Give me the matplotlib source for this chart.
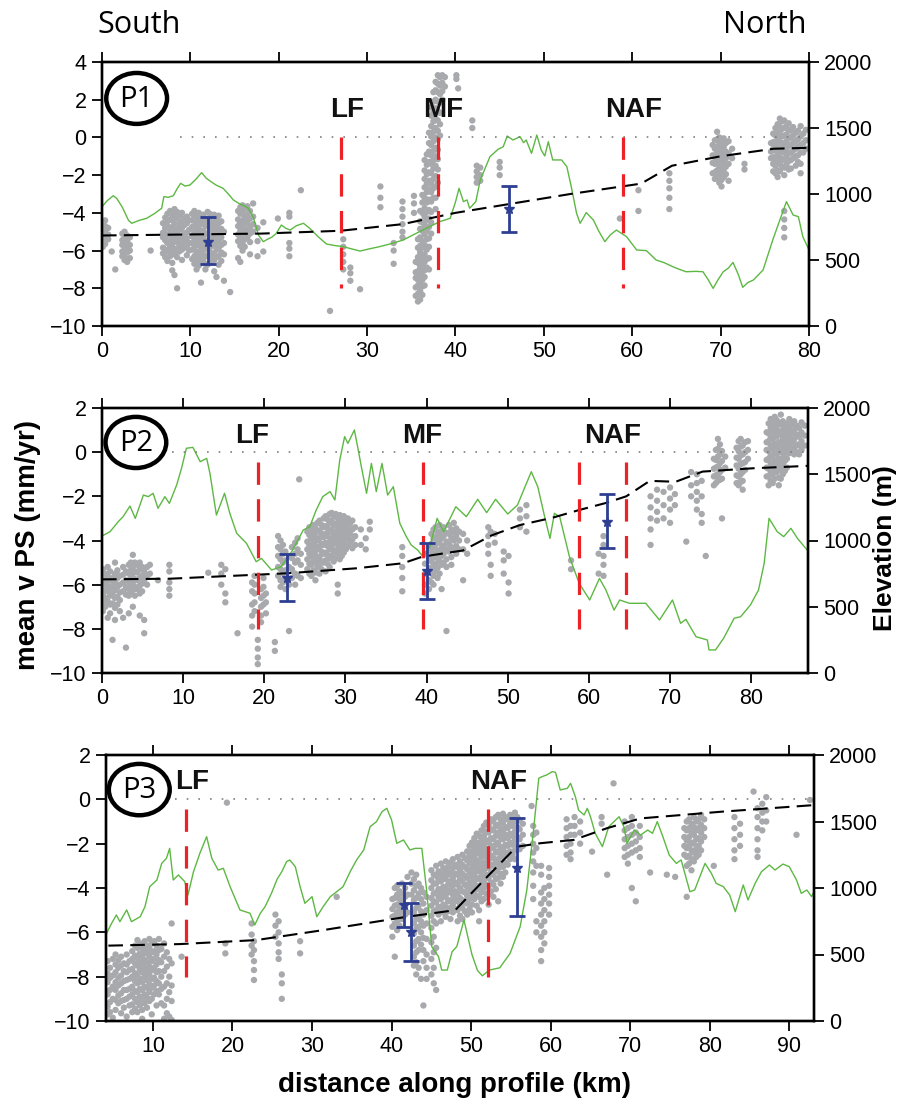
import matplotlib
matplotlib.use('Agg')
import matplotlib.pyplot as plt
from matplotlib.patches import Ellipse

plt.rcParams['font.family'] = ['Liberation Sans', 'DejaVu Sans']

# ======================= DATA =======================
# ---------- Profile P1 ----------
p1_elev_km = [0, 0.6, 1.28, 1.66, 2.3, 3.0, 3.36, 4.2, 5.05, 5.9, 6.75, 7.0, 7.5, 8.07, 8.5, 8.9, 9.4, 9.95,
              10.6, 11.27, 11.8, 12.3, 12.9, 13.7, 14.3, 14.86, 15.6, 16.1, 16.55, 17.1, 17.4, 17.7, 18.25,
              18.8, 19.2, 19.7, 20.3, 20.8, 21.3, 22.0, 22.8, 23.5, 24.4, 25.4, 26.3, 27.3, 28.2, 29.2, 30.3,
              31.4, 32.8, 34.1, 35.2, 36.3, 37.3, 38.2, 39.4, 40.0, 40.4, 40.9, 41.3, 41.6, 42.3, 42.8, 43.9,
              44.8, 45.4, 45.85, 46.5, 47.3, 47.7, 48.0, 48.6, 49.2, 49.7, 50.1, 50.5, 51.0, 52.0, 52.6, 53.1,
              53.7, 54.1, 54.8, 55.6, 56.2, 56.9, 57.5, 58.2, 59.35, 60.5, 61.6, 62.7, 63.6, 64.6, 65.3, 66.1,
              67.2, 68.0, 68.6, 69.15, 69.7, 70.3, 70.9, 71.4, 72.0, 72.5, 73.1, 73.7, 74.8, 75.9, 76.7, 77.45,
              78.2, 78.8, 79.3, 80.0]
p1_elev_m = [904, 950, 987, 967, 900, 800, 778, 800, 816, 850, 892, 980, 975, 987, 1040, 1081, 1060, 1068,
             1110, 1162, 1119, 1095, 1068, 1043, 1000, 955, 924, 910, 892, 828, 760, 689, 639,
             660, 672, 700, 765, 740, 727, 760, 778, 740, 680, 621, 610, 601, 585, 568, 585,
             601, 625, 652, 690, 727, 760, 790, 816, 940, 1043, 942, 955, 892, 942, 1106, 1283,
             1338, 1358, 1439, 1409, 1434, 1389, 1409, 1308, 1447, 1333, 1288, 1396, 1258, 1258, 1207, 1055,
             854, 778, 859, 803, 720, 639, 689, 727, 677, 576, 571, 500, 480, 449, 430, 411,
             414, 411, 350, 285, 350, 411, 440, 482, 390, 293, 330, 348, 424, 652, 803, 942,
             841, 828, 677, 576]
p1_model_km = [0, 18, 27, 29, 34, 40, 53, 61, 64.5, 70, 76, 80]
p1_model_v = [-5.2, -5.1, -4.95, -4.85, -4.6, -4.0, -3.0, -2.45, -1.5, -1.0, -0.6, -0.55]
p1_fault_km = [27.0, 38.0, 59.0]
p1_fault_names = ['LF', 'MF', 'NAF']
p1_label_km = [27.7, 38.6, 60.2]
p1_bar_km = [11.95, 46.1]
p1_bar_v = [-5.53, -3.81]
p1_bar_lo = [-6.73, -5.0]
p1_bar_hi = [-4.2, -2.57]
p1_ps_columns = [
    (0.1, [-4.5, -4.95, -5.2, -5.55, -5.8]), (0.35, [-4.4, -4.7, -5.05, -5.3, -5.65]), (0.7, [-4.8, -5.15, -5.4]),
    (1.1, [-6.05]), (1.5, [-7.0]),
    (2.3, [-5.1, -5.45, -5.7, -6.05, -6.3]), (2.55, [-5.0, -5.3, -5.6, -5.95, -6.2, -6.5]),
    (2.85, [-5.2, -5.5, -5.85, -6.1, -6.45, -6.6]), (3.15, [-5.3, -5.7, -6.0, -6.4]), (5.5, [-6.0]),
    (6.9, [-4.55, -5.05, -5.3, -5.85, -6.15]), (7.15, [-4.25, -4.8, -5.1, -5.45, -5.95, -6.35]),
    (7.4, [-4.05, -4.45, -4.7, -5.2, -5.6, -6.05, -6.55]), (7.7, [-3.9, -4.35, -4.9, -5.15, -5.5, -5.8, -6.3]),
    (7.95, [-4.1, -4.4, -4.75, -5.3, -5.65, -6.1, -6.65, -7.05]),
    (8.2, [-3.8, -4.2, -4.55, -5.0, -5.35, -5.9, -6.2, -7.3]),
    (8.5, [-3.95, -4.3, -4.85, -5.15, -5.55, -6.0, -6.35, -8.0]), (8.75, [-4.15, -4.6, -4.9, -5.4, -5.75, -6.05]),
    (9.05, [-4.0, -4.45, -4.8, -5.25, -5.6, -5.95, -6.5]), (9.3, [-4.3, -4.65, -5.1, -5.5, -5.85]),
    (9.6, [-4.2, -4.55, -5.05, -5.35, -5.8, -6.25]), (9.85, [-4.4, -4.9, -5.6, -6.0]),
    (10.2, [-4.05, -4.4, -4.75, -5.25, -5.6, -5.95, -6.45]),
    (10.45, [-3.9, -4.25, -4.7, -5.05, -5.45, -5.85, -6.3, -6.7]),
    (10.7, [-4.15, -4.55, -4.9, -5.35, -5.7, -6.1, -6.55, -7.0]),
    (10.95, [-4.0, -4.35, -4.85, -5.2, -5.55, -6.05, -6.4, -6.8]),
    (11.2, [-4.25, -4.6, -5.0, -5.4, -5.8, -6.2, -6.65, -7.7]),
    (11.45, [-4.1, -4.5, -4.95, -5.3, -5.65, -6.0, -6.45]),
    (11.7, [-4.3, -4.7, -5.1, -5.5, -5.9, -6.3, -6.7, -7.0]),
    (11.95, [-3.95, -4.35, -4.65, -5.1, -5.5, -5.85, -6.25, -6.75]),
    (12.2, [-4.05, -4.45, -4.85, -5.25, -5.65, -6.05, -6.35]),
    (12.45, [-4.2, -4.6, -5.0, -5.35, -5.75, -6.2, -6.6]),
    (12.7, [-4.1, -4.5, -4.9, -5.3, -5.7, -6.15, -6.5, -7.1]),
    (12.95, [-4.35, -4.75, -5.15, -5.55, -5.95, -6.35, -7.4]),
    (13.2, [-4.15, -4.55, -5.0, -5.45, -5.85, -6.3, -6.75]),
    (13.5, [-4.45, -4.85, -5.3, -5.7, -6.1, -6.55]), (13.8, [-5.0, -5.6, -6.2, -7.6]), (14.5, [-8.2]),
    (15.4, [-3.9, -4.35, -4.7, -5.15, -5.5, -6.4]), (15.65, [-3.7, -4.05, -4.5, -4.95, -5.3, -5.75, -6.6]),
    (15.9, [-3.6, -4.0, -4.4, -4.8, -5.2, -5.6, -6.0]), (16.15, [-3.8, -4.25, -4.6, -5.05, -5.4, -5.8]),
    (16.45, [-3.65, -4.1, -4.5, -4.9, -5.3]), (16.75, [-3.9, -4.3, -4.75, -5.1, -5.55, -6.2]),
    (17.1, [-3.5, -4.2, -4.6, -5.0]), (17.6, [-4.8, -5.5, -6.3]), (18.25, [-4.5, -6.05]), (19.9, [-4.3]),
    (21.2, [-4.0, -4.2, -5.6, -5.9, -6.3]), (22.5, [-2.8]), (25.8, [-9.2]),
    (27.3, [-5.4, -5.8, -6.2, -6.6, -7.0]), (28.1, [-6.9, -7.2, -7.6]), (29.2, [-8.05]),
    (31.5, [-2.6, -3.2, -3.7]), (33.0, [-5.6, -6.0, -6.7]), (34.0, [-3.4, -3.8, -4.2, -4.6, -5.0, -5.3]),
    (35.3, [-3.1, -3.5, -4.0]),
    (35.5, [-6.6, -7.15, -7.45, -7.95, -8.4]),
    (35.75, [-5.4, -5.85, -6.35, -6.65, -7.1, -7.55, -7.85, -8.3, -8.7]),
    (36.0, [-3.9, -4.45, -4.85, -5.3, -5.75, -6.1, -6.55, -6.9, -7.35, -7.7, -8.15, -8.6]),
    (36.25, [-3.05, -3.45, -4.0, -4.5, -4.95, -5.5, -5.85, -6.3, -6.75, -7.1, -7.55, -7.9, -8.35]),
    (36.5, [-1.2, -1.75, -2.2, -2.65, -3.2, -3.75, -4.2, -4.65, -5.15, -5.7, -6.2, -6.6, -7.05, -7.4, -7.85]),
    (36.75, [-0.9, -1.45, -1.95, -2.45, -2.9, -3.45, -3.95, -4.4, -4.95, -5.4, -5.95, -6.45, -6.9]),
    (37.0, [0.25, -0.3, -0.75, -1.3, -1.85, -2.3, -2.75, -3.3, -3.85, -4.3, -4.75, -5.35, -5.8, -6.4, -7.0]),
    (37.25, [1.6, 1.15, 0.6, 0.05, -0.4, -0.95, -1.4, -1.9, -2.45, -2.9, -3.4, -3.95, -4.5, -5.1]),
    (37.5, [2.4, 1.9, 1.35, 0.85, 0.3, -0.2, -0.7, -1.2, -1.65, -2.2, -2.7, -3.2]),
    (37.75, [2.95, 2.5, 2.0, 1.55, 1.0, 0.5, 0.0, -0.55, -1.0, -1.5, -2.05, -2.6, -3.2, -3.8]),
    (38.0, [3.3, 2.85, 2.4, 1.9, 1.4, 0.9, 0.35, -0.1, -0.65, -1.15, -1.7, -2.4]),
    (38.25, [3.2, 2.75, 2.3, 1.85, 1.3, 0.7, 0.1]), (38.5, [3.3, 2.9, 2.45, 2.0]), (38.8, [3.2, 2.7]),
    (40.1, [3.3, 3.1]), (40.3, [2.6]), (41.9, [0.9, 0.5]), (42.4, [-1.5, -1.8, -2.1, -2.4]),
    (42.8, [-1.6, -2.0, -2.3]), (45.0, [-1.3, -1.6, -2.0]), (58.6, [-4.3]), (60.7, [-2.8, -3.9]),
    (64.2, [-1.9, -2.3, -2.7, -3.2, -3.8]),
    (69.1, [-0.4, -0.95, -1.35, -1.9]), (69.35, [-0.15, -0.6, -1.05, -1.4, -1.85, -2.2]),
    (69.6, [0.3, -0.1, -0.5, -0.85, -1.3, -1.75, -2.1]), (69.85, [0.0, -0.35, -0.8, -1.25, -1.6, -2.05, -2.4]),
    (70.1, [-0.2, -0.65, -1.0, -1.45, -1.8, -2.25, -2.6]), (70.35, [-0.05, -0.5, -0.9, -1.3, -1.7, -2.1]),
    (70.6, [-0.3, -0.75, -1.1, -1.55, -1.95]), (70.9, [-0.2, -0.85, -1.4, -2.3]), (71.3, [-0.6, -1.1]),
    (72.7, [-1.4, -1.7]),
    (75.7, [-0.3, -0.75, -1.1]), (75.95, [0.2, -0.25, -0.6, -1.05, -1.4, -1.8]),
    (76.2, [0.5, 0.1, -0.35, -0.7, -1.15, -1.5, -1.9]), (76.45, [0.7, 0.25, -0.1, -0.55, -0.9, -1.3, -1.75, -2.1]),
    (76.7, [1.0, 0.55, 0.2, -0.25, -0.6, -1.05, -1.4, -1.8]), (76.95, [0.85, 0.45, 0.05, -0.3, -0.75, -1.15, -1.55]),
    (77.2, [0.9, 0.5, 0.1, -0.4, -0.8, -1.2, -1.6, -2.0, -3.9, -4.35, -4.8, -5.3]),
    (77.45, [0.6, 0.15, -0.2, -0.6, -1.0, -1.45]), (77.7, [0.75, 0.35, -0.05, -0.45, -0.85, -1.25, -1.7]),
    (77.95, [0.4, 0.0, -0.4, -0.8, -1.2, -1.65]), (78.2, [0.55, 0.1, -0.3, -0.7, -1.1]),
    (78.5, [0.25, -0.2, -0.6, -1.0, -1.5]), (78.75, [0.35, -0.1, -0.5, -0.95, -1.3]),
    (79.05, [0.6, 0.05, -0.4, -0.8, -1.4, -1.9]), (79.35, [0.2, -0.3, -0.8]), (79.65, [0.4, -0.15, -0.6]),
]

# ---------- Profile P2 ----------
p2_elev_km = [0, 1.0, 2.0, 2.6, 3.45, 4.1, 5.1, 5.7, 6.3, 6.9, 7.75, 8.3, 9.2, 9.8, 10.4, 11.2, 12.1, 12.9, 13.3,
              14.1, 15.1, 15.75, 16.6, 17.8, 19.0, 19.65, 20.9, 22.1, 23.5, 24.8, 25.6, 26.4, 27.2, 28.1, 28.7,
              29.3, 29.9, 30.3, 31.1, 31.5, 31.96, 32.6, 33.2, 33.8, 34.5, 35.2, 35.9, 36.7, 37.5, 38.1, 38.9,
              39.55, 40.4, 41.3, 42.1, 43.6, 44.9, 46.3, 47.4, 48.5, 50.0, 51.2, 52.9, 53.7, 54.5, 55.2, 55.75,
              56.4, 57.6, 58.8, 60.1, 61.3, 62.1, 63.1, 63.8, 65.0, 67.0, 68.7, 70.3, 71.3, 71.95, 73.2, 74.6,
              74.8, 75.6, 76.6, 77.9, 78.7, 79.9, 80.9, 81.6, 82.2, 83.2, 84.0, 84.9, 85.7, 86.9]
p2_elev_m = [1034, 1067, 1142, 1180, 1260, 1167, 1343, 1331, 1356, 1243, 1331, 1280, 1419, 1545, 1696, 1703, 1595, 1620, 1507,
             1192, 1356, 1205, 1054, 979, 840, 865, 777, 803, 928, 1079, 1104, 1230, 1331, 1369, 1306,
             1608, 1784, 1733, 1834, 1708, 1557, 1356, 1582, 1369, 1582, 1343, 1406, 1130, 1029, 966, 928,
             878, 953, 1167, 1067, 1255, 1180, 1311, 1210, 1311, 1200, 1268, 1519, 1406, 1192, 1016, 1205,
             1180, 878, 677, 551, 714, 626, 475, 551, 526, 526, 400, 551, 375, 405, 274, 249,
             174, 174, 262, 413, 425, 513, 626, 828, 1167, 1067, 1029, 1092, 1016, 928]
p2_model_km = [0, 8.4, 19, 23, 31.3, 37.1, 39.5, 44.5, 48, 51.5, 55.5, 58.8, 62.1, 64.6, 67.5, 70.7, 74, 80.2, 87]
p2_model_v = [-5.76, -5.73, -5.55, -5.48, -5.26, -5.03, -4.73, -4.45, -3.77, -3.3, -2.97, -2.62, -2.3, -2.0,
              -1.3, -1.34, -0.88, -0.73, -0.62]
p2_fault_km = [19.25, 39.5, 58.8, 64.6]
p2_fault_names = ['LF', 'MF', 'NAF']
p2_label_km = [18.5, 39.4, 62.9]
p2_bar_km = [22.8, 40.0, 62.2]
p2_bar_v = [-5.71, -5.38, -3.15]
p2_bar_lo = [-6.72, -6.63, -4.35]
p2_bar_hi = [-4.63, -4.13, -1.91]
p2_ps_columns = [
    (0.1, [-5.3, -5.75, -6.0, -6.45, -6.8, -7.2]), (0.4, [-5.5, -5.85, -6.25, -6.6, -7.0]),
    (0.7, [-5.2, -5.6, -6.05, -6.3, -6.75, -7.5]), (1.0, [-5.4, -5.8, -6.15, -6.5, -6.9, -7.3]),
    (1.3, [-5.7, -6.05, -6.4, -6.85, -8.5]), (1.6, [-5.0, -5.5, -5.9, -6.25, -6.6, -7.05, -7.6]),
    (1.9, [-5.35, -5.7, -6.1, -6.55, -6.9]), (2.2, [-5.6, -6.0, -6.35, -6.7, -7.2]),
    (2.6, [-5.2, -5.55, -5.9, -6.3, -7.5]), (2.95, [-5.4, -5.8, -6.1, -6.45, -8.85]),
    (3.3, [-5.1, -5.5, -5.85, -6.2, -6.5, -7.3]), (3.55, [-5.0, -5.35, -5.7, -6.05, -6.4]),
    (3.8, [-4.65, -5.2, -5.5, -5.9, -6.25, -7.0]), (4.05, [-5.0, -5.4, -5.75, -6.1, -6.5]),
    (4.35, [-5.1, -5.45, -5.8, -6.2]), (4.65, [-5.0, -5.3, -5.7, -6.05, -6.4, -7.4]),
    (4.95, [-5.2, -5.6, -5.95, -6.3]), (5.2, [-5.4, -5.8, -7.6, -8.2]), (5.55, [-5.2, -5.6, -6.0]),
    (5.9, [-5.1, -5.5]), (6.9, [-5.8]), (8.3, [-5.1, -5.4, -5.9, -6.2, -6.5]), (13.1, [-5.46]),
    (14.7, [-5.1, -5.5, -6.0]), (15.2, [-5.3, -6.4, -6.8]), (16.7, [-8.2]),
    (18.5, [-5.9, -6.3, -6.9, -7.4, -7.9]), (18.8, [-5.6, -6.0, -6.4, -6.8, -7.2]),
    (19.2, [-8.5, -8.9, -9.3, -9.6]), (19.6, [-6.2, -6.6, -7.0, -7.4, -7.7]),
    (19.9, [-5.7, -6.1, -6.5, -6.9]), (20.2, [-6.4, -6.8, -7.3]), (21.3, [-8.6, -9.0]),
    (21.7, [-3.8, -4.3, -4.7, -5.2, -5.6]), (22.0, [-4.0, -4.4, -4.85, -5.3, -5.8, -6.1]),
    (22.3, [-4.2, -4.6, -5.0, -5.5, -5.9]), (22.6, [-4.5, -4.9, -5.35, -5.8, -6.2]),
    (23.05, [-4.7, -5.2, -6.0, -8.1]), (23.4, [-4.3, -4.8, -5.3, -5.7]),
    (23.8, [-4.1, -4.6, -5.0, -5.5, -6.0]), (24.1, [-3.9, -4.4, -4.9, -5.6]), (24.3, [-1.23]),
    (24.5, [-4.6, -5.1, -5.7]),
    (25.3, [-3.6, -4.05, -4.4, -4.85, -5.3]), (25.55, [-3.4, -3.75, -4.2, -4.6, -5.05, -5.5]),
    (25.8, [-3.55, -3.9, -4.35, -4.7, -5.1, -5.6]), (26.05, [-3.3, -3.7, -4.1, -4.55, -4.9, -5.35]),
    (26.3, [-3.45, -3.85, -4.25, -4.65, -5.0, -5.45, -5.8]), (26.55, [-3.2, -3.6, -4.0, -4.4, -4.85, -5.2]),
    (26.8, [-3.1, -3.55, -3.9, -4.3, -4.75, -5.1, -5.5]), (27.05, [-3.3, -3.7, -4.15, -4.5, -4.95, -5.3]),
    (27.3, [-3.0, -3.4, -3.85, -4.2, -4.6, -5.0]), (27.55, [-2.9, -3.35, -3.7, -4.1, -4.55, -4.9, -5.4]),
    (27.8, [-3.05, -3.45, -3.8, -4.25, -4.65, -5.05]), (28.05, [-2.8, -3.2, -3.6, -4.05, -4.4, -4.8, -5.2]),
    (28.3, [-2.75, -3.1, -3.5, -3.95, -4.3, -4.7]), (28.55, [-2.9, -3.3, -3.75, -4.1, -4.5, -4.95]),
    (28.8, [-2.8, -3.25, -3.6, -4.0, -4.45, -4.8]), (29.05, [-3.0, -3.4, -3.8, -4.2, -4.6, -6.0, -6.4]),
    (29.3, [-2.85, -3.25, -3.65, -4.05, -4.45, -4.85]), (29.55, [-3.1, -3.5, -3.9, -4.3, -4.7]),
    (29.8, [-2.9, -3.3, -3.75, -4.15, -4.55]), (30.05, [-3.15, -3.55, -3.95, -4.4]),
    (30.3, [-3.0, -3.45, -3.85, -4.25]), (30.55, [-3.25, -3.7, -4.1]), (30.85, [-3.1, -3.5, -3.95, -4.35]),
    (31.2, [-3.4, -3.8, -4.2]),
    (31.9, [-3.5, -4.2]), (32.5, [-3.9, -4.4]), (33.0, [-3.15, -3.5]),
    (37.0, [-4.3, -4.7, -5.2, -5.7, -6.3]),
    (39.8, [-4.6, -5.05, -5.5, -6.0, -6.4]), (40.3, [-4.3, -4.8, -5.25, -5.8, -6.2]),
    (40.6, [-3.7, -4.15, -4.5, -4.95, -5.4, -5.9]), (40.85, [-3.5, -3.9, -4.3, -4.75, -5.15, -5.6, -6.0]),
    (41.1, [-3.4, -3.85, -4.2, -4.6, -5.05, -5.4]), (41.35, [-3.6, -4.0, -4.45, -4.8, -5.25, -5.7]),
    (41.6, [-3.3, -3.75, -4.1, -4.5, -4.95, -5.5]), (41.85, [-3.55, -3.9, -4.35, -4.7, -5.1, -6.2]),
    (42.1, [-3.4, -3.8, -4.25, -4.6, -5.0]), (42.45, [-3.65, -4.05, -4.4, -4.85, -5.2, -8.1]),
    (42.75, [-3.3, -3.7, -4.15, -4.5]), (43.05, [-3.5, -3.9, -4.3, -4.75, -5.1]),
    (43.35, [-3.2, -3.65, -4.0, -4.4]), (43.65, [-3.45, -3.8, -4.25, -4.6]), (44.0, [-3.6, -4.0, -4.4]),
    (44.5, [-3.7, -4.4, -5.8]), (45.0, [-4.0, -4.6]), (47.6, [-3.4, -3.8, -4.2, -4.6]),
    (47.9, [-3.6, -5.1, -5.6]), (48.4, [-3.7, -4.1]), (49.5, [-4.5, -4.9, -5.5]), (50.1, [-4.7, -5.9, -6.4]),
    (51.5, [-2.6, -3.0, -3.4]), (52.3, [-2.4, -2.9, -3.6]), (57.8, [-4.9, -5.3]), (61.2, [-4.6, -5.5]),
    (61.8, [-3.8, -4.2, -4.7, -5.1, -5.6]), (67.6, [-2.0, -2.5, -3.0, -3.5, -4.2]),
    (68.4, [-1.7, -2.2, -2.7, -3.1]), (69.2, [-1.8, -2.4, -3.0]), (70.0, [-1.6, -2.1, -2.6, -3.2]),
    (70.6, [-1.9, -2.4]), (72.0, [-4.05]), (72.6, [-0.9, -1.5, -2.0]), (73.3, [-1.0, -1.4, -1.8, -2.2, -2.6]),
    (73.9, [-1.3, -2.0, -2.8, -3.2]), (74.4, [-4.7]),
    (75.4, [-0.3, -0.75, -1.1, -1.5]), (75.65, [0.1, -0.35, -0.7, -1.05, -1.4]),
    (75.9, [0.6, 0.15, -0.2, -0.65, -1.0, -1.3]), (76.15, [0.35, -0.1, -0.5, -0.9, -1.25]),
    (76.4, [0.05, -0.4, -0.8, -1.2, -3.0]), (76.8, [-0.2, -0.7]),
    (78.2, [0.2, -0.25, -0.6, -1.05, -1.4]), (78.45, [0.5, 0.05, -0.3, -0.75, -1.1, -1.5]),
    (78.7, [0.6, 0.25, -0.15, -0.55, -1.0, -1.35]), (78.95, [0.3, -0.1, -0.5, -0.9, -1.3, -1.7]),
    (79.25, [0.45, 0.0, -0.45, -0.8]), (79.6, [0.5, 0.1, -0.3]),
    (81.9, [0.9, 0.45, 0.1, -0.35, -0.7, -1.1]), (82.15, [1.3, 0.85, 0.5, 0.05, -0.3, -0.75, -1.1, -1.5]),
    (82.4, [1.5, 1.1, 0.65, 0.3, -0.15, -0.5, -0.95, -1.3]),
    (82.65, [1.35, 0.95, 0.6, 0.15, -0.2, -0.65, -1.0, -1.4]),
    (82.9, [1.6, 1.2, 0.8, 0.4, -0.05, -0.4, -0.85, -1.2]),
    (83.15, [1.45, 1.05, 0.7, 0.25, -0.1, -0.55, -0.9]),
    (83.4, [1.3, 0.9, 0.45, 0.1, -0.3, -0.7, -1.15, -1.5]),
    (83.65, [1.7, 1.25, 0.8, 0.4, 0.0, -0.45, -0.8, -1.2]),
    (83.9, [1.4, 1.0, 0.6, 0.2, -0.25, -0.6, -1.0]), (84.15, [1.15, 0.75, 0.35, -0.05, -0.4, -0.85]),
    (84.4, [1.3, 0.9, 0.5, 0.1, -0.3, -0.7]), (84.7, [1.5, 1.05, 0.65, 0.25, -0.05]),
    (85.0, [1.25, 0.85, 0.45, 0.1]), (85.3, [1.4, 1.0, 0.6, 0.2, -0.1]), (85.6, [1.2, 0.8, 0.35, 0.0]),
    (85.9, [1.1, 0.7, 0.3, -0.1]), (86.2, [1.35, 0.9, 0.5, 0.1]), (86.6, [1.2, 0.75, 0.3]),
]

# ---------- Profile P3 ----------
p3_elev_km = [4.17, 4.8, 5.4, 5.85, 6.7, 7.3, 8.4, 9.0, 9.6, 10.5, 11.1, 11.7, 12.1, 12.55, 13.2, 14.0, 14.4, 15.1,
              15.9, 16.75, 17.4, 18.2, 18.85, 19.7, 20.94, 22.2, 22.8, 23.5, 24.1, 24.9, 25.6, 26.2, 26.8, 27.2,
              27.9, 28.5, 29.1, 30.0, 30.6, 31.4, 32.3, 33.1, 33.9, 34.8, 35.6, 36.5, 37.3, 38.1, 38.8, 39.4,
              40.0, 40.65, 41.5, 42.3, 42.96, 43.8, 44.4, 45.05, 45.9, 46.3, 47.0, 47.6, 48.2, 49.1, 50.1, 50.8,
              51.4, 52.3, 53.6, 54.9, 56.16, 57.0, 57.8, 58.5, 58.9, 59.5, 60.2, 60.6, 61.2, 62.1, 62.5, 63.1,
              63.5, 64.2, 64.6, 65.0, 65.6, 66.5, 67.3, 68.6, 69.2, 69.6, 70.5, 71.3, 72.2, 72.8, 73.4, 74.1,
              74.9, 75.8, 76.4, 77.5, 78.1, 79.4, 80.2, 80.8, 81.7, 82.5, 83.2, 84.2, 84.8, 85.7, 86.5, 87.5,
              88.2, 89.2, 90.0, 90.9, 91.5, 92.2, 92.8, 93.1]
p3_elev_m = [659, 734, 797, 747, 835, 747, 784, 860, 1010, 1060, 1185, 1223, 1298, 1060, 1098, 1048, 947, 1123,
             1261, 1386, 1223, 1135, 1148, 1010, 835, 810, 722, 810, 860, 960, 1065, 1123, 1198, 1211,
             1160, 1010, 885, 935, 784, 860, 935, 972, 1010, 1123, 1211, 1286, 1461, 1499, 1574, 1599,
             1511, 1336, 1361, 1286, 1298, 1298, 985, 559, 484, 383, 383, 520, 560, 759, 500, 380,
             340, 383, 400, 509, 709, 985, 1411, 1825, 1837, 1850, 1875, 1870, 1737, 1750, 1787, 1687,
             1586, 1549, 1599, 1536, 1411, 1311, 1461, 1536, 1461, 1336, 1436, 1398, 1436, 1411, 1499, 1386,
             1248, 1185, 1211, 972, 985, 1185, 1110, 1035, 1010, 947, 822, 1023, 910, 1035, 1123, 1173,
             1135, 1180, 1160, 1060, 960, 985, 935, 972]
p3_model_km = [4.4, 13.4, 23, 31.4, 41.9, 48, 52, 55.7, 58.7, 62.9, 67.1, 71.3, 81.4, 93.1]
p3_model_v = [-6.6, -6.53, -6.35, -5.9, -5.3, -5.0, -3.5, -2.14, -1.98, -1.83, -1.3, -0.86, -0.56, -0.26]
p3_fault_km = [14.1, 52.1]
p3_fault_names = ['LF', 'NAF']
p3_label_km = [14.95, 53.4]
p3_bar_km = [41.5, 42.45, 55.75]
p3_bar_v = [-4.77, -5.97, -3.08]
p3_bar_lo = [-5.74, -7.28, -5.26]
p3_bar_hi = [-3.76, -4.69, -0.86]
p3_ps_columns = [
    (4.3, [-7.3, -7.85, -8.25, -8.8, -9.35, -9.7]), (4.6, [-7.6, -8.05, -8.6, -9.15, -9.6]),
    (4.95, [-7.2, -7.95, -8.45, -9.0, -9.85]), (5.3, [-7.0, -7.45, -7.8, -8.25, -8.6, -9.05, -9.5]),
    (5.65, [-7.25, -7.6, -8.05, -8.4, -8.85, -9.2]), (6.0, [-7.1, -7.5, -7.95, -8.3, -8.75, -9.1, -9.65]),
    (6.35, [-7.4, -7.75, -8.2, -8.6, -9.05, -9.4]), (6.7, [-7.0, -7.45, -7.8, -8.15, -8.6, -9.0, -9.8]),
    (7.05, [-7.3, -7.7, -8.1, -8.55, -8.9, -9.3]), (7.4, [-6.85, -7.2, -7.65, -8.0, -8.45, -8.8, -9.25, -9.6]),
    (7.75, [-6.6, -7.05, -7.4, -7.85, -8.2, -8.65, -9.0, -9.45]),
    (8.05, [-6.35, -6.7, -7.15, -7.5, -7.95, -8.3, -8.7, -9.15, -9.6]),
    (8.35, [-6.5, -6.95, -7.3, -7.7, -8.1, -8.55, -8.9, -9.3]),
    (8.65, [-6.7, -7.05, -7.45, -7.8, -8.25, -8.6, -9.05, -9.5, -9.9]),
    (8.95, [-6.4, -6.8, -7.25, -7.6, -8.0, -8.45, -8.8, -9.2]),
    (9.25, [-6.6, -6.95, -7.35, -7.75, -8.15, -8.5, -8.95, -9.4]),
    (9.55, [-6.3, -6.7, -7.1, -7.55, -7.9, -8.35, -8.7, -9.1]),
    (9.85, [-6.5, -6.9, -7.3, -7.7, -8.1, -8.5, -9.0, -9.7]),
    (10.15, [-6.4, -6.85, -7.2, -7.6, -8.05, -8.4, -8.8]),
    (10.45, [-6.6, -7.0, -7.45, -7.8, -8.2, -8.65, -9.3]),
    (10.75, [-6.3, -6.8, -7.25, -7.75, -8.3, -8.8]), (11.05, [-6.75, -7.35, -8.0, -8.55, -9.2]),
    (11.4, [-6.5, -7.1, -7.75, -8.45, -9.3, -9.9]), (11.75, [-6.9, -7.55, -8.3, -9.0, -9.65]),
    (12.05, [-7.2, -8.0, -8.7, -9.8]), (12.35, [-5.6, -7.4, -8.4, -9.1, -9.95]), (13.6, [-7.1]),
    (19.1, [-6.5, -6.95]), (19.3, [-0.15]),
    (22.4, [-5.6, -6.1, -6.6, -7.0]), (22.7, [-6.4, -6.8, -7.3, -7.7, -8.15]),
    (25.4, [-5.2, -5.7, -6.2]), (25.8, [-5.5, -6.0, -6.5, -6.9, -7.2]), (26.2, [-7.9, -8.3, -9.0]),
    (28.5, [-6.4, -6.95]), (33.1, [-4.4]),
    (40.1, [-4.5, -4.95, -5.3, -5.75, -6.2]), (40.4, [-4.0, -4.45, -4.8, -5.25, -5.6, -7.1]),
    (40.7, [-3.9, -4.3, -4.75, -5.1, -5.55, -5.9]), (41.0, [-4.15, -4.5, -4.95, -5.3, -5.7]),
    (41.3, [-3.8, -4.25, -4.6, -5.05, -5.4]), (41.7, [-4.0, -4.4, -4.85, -5.2]), (42.0, [-3.5, -4.3, -5.1]),
    (42.5, [-3.3, -3.8, -4.3]), (42.8, [-3.6, -4.1, -4.55, -5.1, -5.6, -6.05, -6.6, -7.1, -7.5]),
    (43.1, [-3.4, -3.9, -4.45, -4.9, -5.4, -5.85, -6.4, -6.9, -7.35, -7.9]),
    (43.4, [-3.8, -4.25, -4.8, -5.3, -5.75, -6.3, -6.8, -7.6]),
    (43.7, [-4.0, -4.5, -5.05, -5.5, -6.0, -6.55, -8.1]),
    (44.0, [-4.2, -4.7, -5.2, -5.7, -6.25, -6.8, -7.3, -9.3]),
    (44.4, [-4.4, -5.0, -5.6, -6.3, -7.0, -7.6, -8.1]),
    (45.0, [-3.2, -3.65, -4.0, -4.45, -4.8, -5.25, -5.8, -6.45, -7.2, -7.9]),
    (45.3, [-3.4, -3.8, -4.25, -4.6, -5.05, -5.5, -6.2, -6.9, -7.6, -8.3]),
    (45.6, [-3.0, -3.45, -3.8, -4.2, -4.65, -5.0, -5.6, -6.7, -8.6]),
    (45.9, [-3.25, -3.6, -4.05, -4.4, -4.85, -5.2]), (46.2, [-2.9, -3.35, -3.7, -4.15, -4.5, -4.95, -5.5]),
    (46.5, [-3.1, -3.5, -3.95, -4.3, -4.75, -5.1]), (46.8, [-2.8, -3.25, -3.6, -4.05, -4.4, -4.85, -5.3]),
    (47.1, [-3.05, -3.4, -3.85, -4.2, -4.6, -5.05]), (47.4, [-2.85, -3.3, -3.7, -4.1, -4.55, -4.9, -5.4]),
    (47.7, [-2.7, -3.1, -3.55, -3.9, -4.3, -4.75, -5.1]), (48.0, [-2.95, -3.35, -3.75, -4.15, -4.5, -4.95]),
    (48.3, [-2.6, -3.05, -3.4, -3.85, -4.25, -4.6, -5.0, -5.5]),
    (48.6, [-2.8, -3.2, -3.6, -4.0, -4.45, -4.8, -5.25]),
    (48.9, [-2.5, -2.95, -3.35, -3.7, -4.15, -4.55, -4.9, -5.4]),
    (49.2, [-2.65, -3.05, -3.45, -3.85, -4.2, -4.65, -5.05]),
    (49.5, [-2.35, -2.75, -3.15, -3.55, -3.95, -4.35, -4.7, -5.2]),
    (49.8, [-2.1, -2.55, -2.9, -3.3, -3.75, -4.1, -4.5, -4.95]),
    (50.1, [-1.95, -2.35, -2.75, -3.15, -3.5, -3.95, -4.3, -4.75, -5.1]),
    (50.4, [-1.75, -2.15, -2.55, -2.95, -3.35, -3.7, -4.15, -4.5]),
    (50.7, [-1.55, -1.95, -2.3, -2.75, -3.1, -3.55, -3.9, -4.35, -4.8]),
    (51.0, [-1.65, -2.05, -2.45, -2.85, -3.25, -3.6, -4.05, -4.4, -5.0, -5.5]),
    (51.3, [-1.4, -1.85, -2.2, -2.6, -3.05, -3.45, -3.85, -4.2, -4.6]),
    (51.6, [-1.2, -1.65, -2.05, -2.4, -2.85, -3.2, -3.65, -4.0, -4.5]),
    (51.9, [-1.05, -1.45, -1.85, -2.25, -2.6, -3.05, -3.4, -3.85, -4.25]),
    (52.2, [-1.15, -1.5, -1.95, -2.35, -2.75, -3.1, -3.55, -3.9, -4.3, -4.75]),
    (52.5, [-0.9, -1.35, -1.75, -2.1, -2.55, -2.95, -3.3, -3.75, -4.15]),
    (52.8, [-1.0, -1.4, -1.8, -2.2, -2.65, -3.0, -3.4, -3.85, -4.4]),
    (53.1, [-0.8, -1.2, -1.65, -2.05, -2.4, -2.85, -3.25, -3.6, -4.05]),
    (53.4, [-0.7, -1.15, -1.5, -1.95, -2.35, -2.7, -3.1, -3.55, -4.6]),
    (53.7, [-0.9, -1.3, -1.7, -2.15, -2.5, -2.9, -3.35, -3.8]),
    (54.0, [-0.65, -1.05, -1.45, -1.8, -2.25, -2.6, -3.05, -3.5]),
    (54.3, [-0.8, -1.25, -1.6, -2.05, -2.4, -2.85, -3.3]),
    (54.6, [-0.9, -1.3, -1.75, -2.1, -2.55, -2.95]), (54.9, [-0.7, -1.1, -1.55, -1.95, -2.35, -2.7]),
    (55.2, [-0.85, -1.2, -1.65, -2.05, -2.5]), (55.5, [-0.6, -1.0, -1.45, -1.85, -2.3, -2.7]),
    (55.8, [-0.8, -1.25, -1.7, -2.1]), (56.1, [-0.95, -1.35, -1.8, -2.25]), (56.5, [-1.1, -1.6, -2.1]),
    (57.6, [-0.3]),
    (57.8, [-1.2, -1.6, -2.0, -2.4, -2.8, -3.3, -3.9, -4.5]), (58.2, [-1.5, -2.2, -3.0, -5.5, -6.0]),
    (58.8, [-3.0, -3.4, -4.2, -4.7, -5.2, -5.7, -6.2, -6.8, -7.3]),
    (59.2, [-4.0, -4.5, -5.0, -5.5, -6.0, -6.5]), (59.8, [-3.1, -3.5, -3.9, -4.3, -4.7, -5.2]),
    (62.0, [-0.9, -1.3, -1.7, -2.1, -2.5]), (62.5, [-1.2, -1.6, -2.0, -2.4, -2.7]), (63.0, [-0.8, -1.2, -1.6]),
    (63.7, [-1.0, -1.5, -2.0]), (65.2, [-2.36]), (66.4, [-0.8, -1.1]), (67.1, [-3.4]), (67.9, [0.72]),
    (69.3, [-1.0, -1.4, -1.8, -2.2, -2.6]), (69.7, [-1.3, -1.7, -2.1, -2.5, -2.9]),
    (70.2, [-0.8, -1.2, -1.6, -2.0, -2.4, -4.0]), (70.7, [-1.5, -1.9, -2.3, -4.6]),
    (71.2, [-1.2, -1.7, -2.2, -2.6]), (72.5, [-3.3]), (74.6, [-3.4]), (75.65, [-3.5]),
    (76.8, [-1.3, -1.7, -2.1, -2.5]), (77.1, [-1.0, -1.4, -1.85, -2.2, -2.6, -3.0, -4.4]),
    (77.4, [-0.9, -1.3, -1.7, -2.1, -2.55, -2.9]), (77.7, [-1.1, -1.5, -1.95, -2.3, -2.7, -3.2]),
    (78.0, [-0.8, -1.25, -1.6, -2.0, -2.4, -2.8]), (78.3, [-1.0, -1.4, -1.8, -2.25, -2.6]),
    (78.6, [-0.9, -1.3, -1.75, -2.1, -2.5]), (78.9, [-0.7, -1.15, -1.5, -1.9, -2.3]),
    (79.3, [-0.9, -1.3, -1.7]),
    (80.5, [-3.0]), (83.1, [-0.8, -1.3, -1.8, -2.3, -2.7]), (83.8, [-1.1, -1.6, -2.1]), (85.5, [0.35]),
    (86.0, [-0.4, -0.8, -1.3, -1.8, -2.3, -2.6]), (86.6, [-0.2, -0.6, -1.0, -1.4]), (87.1, [0.1, -0.5, -1.0]),
    (90.9, [-1.6]), (92.6, [-0.03]),
]

# ======================= STYLE / LAYOUT =======================
GRAY = '#a7a9ac'
GREEN = '#5db843'
RED = '#ec2227'
BLUE = '#2e3e92'
TICK_FS = 15.5
LABEL_FS = 20
FAULT_FS = 20

fig = plt.figure(figsize=(9.2, 11.13), dpi=100)

panels = [
    dict(rect=[102/920, 1-326/1113, 707/920, 264/1113], xlim=(0, 80), ylim=(-10, 4),
         xticks=range(0, 81, 10), yticks=range(-10, 5, 2),
         ek=p1_elev_km, em=p1_elev_m, mk=p1_model_km, mv=p1_model_v,
         fk=p1_fault_km, fy=(0, -8), fn=p1_fault_names, lk=p1_label_km, ly=1.45,
         bk=p1_bar_km, bv=p1_bar_v, blo=p1_bar_lo, bhi=p1_bar_hi, cols=p1_ps_columns,
         tag='P1', circ=(0.049, 0.862), zstart=8.8),
    dict(rect=[102/920, 1-673/1113, 706/920, 265/1113], xlim=(0, 87), ylim=(-10, 2),
         xticks=range(0, 81, 10), yticks=range(-10, 3, 2),
         ek=p2_elev_km, em=p2_elev_m, mk=p2_model_km, mv=p2_model_v,
         fk=p2_fault_km, fy=(-0.45, -8), fn=p2_fault_names, lk=p2_label_km, ly=0.75,
         bk=p2_bar_km, bv=p2_bar_v, blo=p2_bar_lo, bhi=p2_bar_hi, cols=p2_ps_columns,
         tag='P2', circ=(0.048, 0.870), zstart=8.6),
    dict(rect=[106/920, 1-1021/1113, 708/920, 266/1113], xlim=(4.1, 93.1), ylim=(-10, 2),
         xticks=range(10, 91, 10), yticks=range(-10, 3, 2),
         ek=p3_elev_km, em=p3_elev_m, mk=p3_model_km, mv=p3_model_v,
         fk=p3_fault_km, fy=(-0.45, -8), fn=p3_fault_names, lk=p3_label_km, ly=0.77,
         bk=p3_bar_km, bv=p3_bar_v, blo=p3_bar_lo, bhi=p3_bar_hi, cols=p3_ps_columns,
         tag='P3', circ=(0.047, 0.870), zstart=12.8),
]

for p in panels:
    ax = fig.add_axes(p['rect'])
    ax2 = ax.twinx()
    ax.set_zorder(ax2.get_zorder() + 1)
    ax.patch.set_visible(False)

    xs = [c[0] for c in p['cols'] for _ in c[1]]
    ys = [y for c in p['cols'] for y in c[1]]
    ax2.scatter(xs, ys, s=21, color=GRAY, edgecolors='none', transform=ax.transData, zorder=1)
    ax2.plot(p['ek'], p['em'], color=GREEN, lw=1.0, zorder=2)
    ax2.set_ylim(0, 2000)
    ax2.set_yticks([0, 500, 1000, 1500, 2000])

    ax.plot([p['zstart'], p['xlim'][1]], [0, 0], color='#7f7f7f', lw=1.2, dashes=(1, 6), zorder=2)
    ax.plot(p['mk'], p['mv'], color='black', lw=1.5, dashes=(7, 3.5), zorder=3)
    for fx in p['fk']:
        ax.plot([fx, fx], list(p['fy']), color=RED, lw=2.3, dashes=(7, 4.5), zorder=4)
    for name, lx in zip(p['fn'], p['lk']):
        ax.text(lx, p['ly'], name, fontsize=FAULT_FS, fontweight='bold', ha='center', va='center',
                color='#111111', zorder=6)
    err_lo = [v - lo for v, lo in zip(p['bv'], p['blo'])]
    err_hi = [hi - v for v, hi in zip(p['bv'], p['bhi'])]
    ax.errorbar(p['bk'], p['bv'], yerr=[err_lo, err_hi], fmt='*', color=BLUE, ms=7,
                elinewidth=2.0, capsize=6, capthick=2.0, zorder=5)

    ax.set_xlim(*p['xlim'])
    ax.set_ylim(*p['ylim'])
    ax.set_xticks(list(p['xticks']))
    ax.set_yticks(list(p['yticks']))
    ax.tick_params(axis='x', which='both', top=True, bottom=True, direction='out',
                   length=7, width=1.3, labelsize=TICK_FS, pad=4)
    ax.tick_params(axis='y', direction='out', length=7, width=1.3, labelsize=TICK_FS, pad=4, right=False)
    ax2.tick_params(axis='y', direction='out', length=7, width=1.3, labelsize=TICK_FS, pad=4)
    for a in (ax, ax2):
        for s in a.spines.values():
            s.set_linewidth(1.7)

    cx, cy = p['circ']
    ax.add_patch(Ellipse((cx, cy), 0.086, 0.193, transform=ax.transAxes, facecolor='white',
                         edgecolor='black', lw=3.2, zorder=7, clip_on=False))
    ax.text(cx, cy - 0.005, p['tag'], transform=ax.transAxes, fontsize=21, family=['Open Sans', 'DejaVu Sans'],
            ha='center', va='center', zorder=8)

fig.text(97/920, 1-25/1113, 'South', fontsize=22, family=['Open Sans', 'DejaVu Sans'], ha='left', va='center')
fig.text(806/920, 1-25/1113, 'North', fontsize=22, family=['Open Sans', 'DejaVu Sans'], ha='right', va='center')
fig.text(28/920, 1-545/1113, 'mean v PS (mm/yr)', fontsize=LABEL_FS, fontweight='bold', rotation=90,
         ha='center', va='center')
fig.text(885/920, 1-548/1113, 'Elevation (m)', fontsize=19, fontweight='bold', rotation=90,
         ha='center', va='center')
fig.text(455/920, 1-1085/1113, 'distance along profile (km)', fontsize=LABEL_FS, fontweight='bold',
         ha='center', va='center')

fig.savefig('out.png', dpi=100)
